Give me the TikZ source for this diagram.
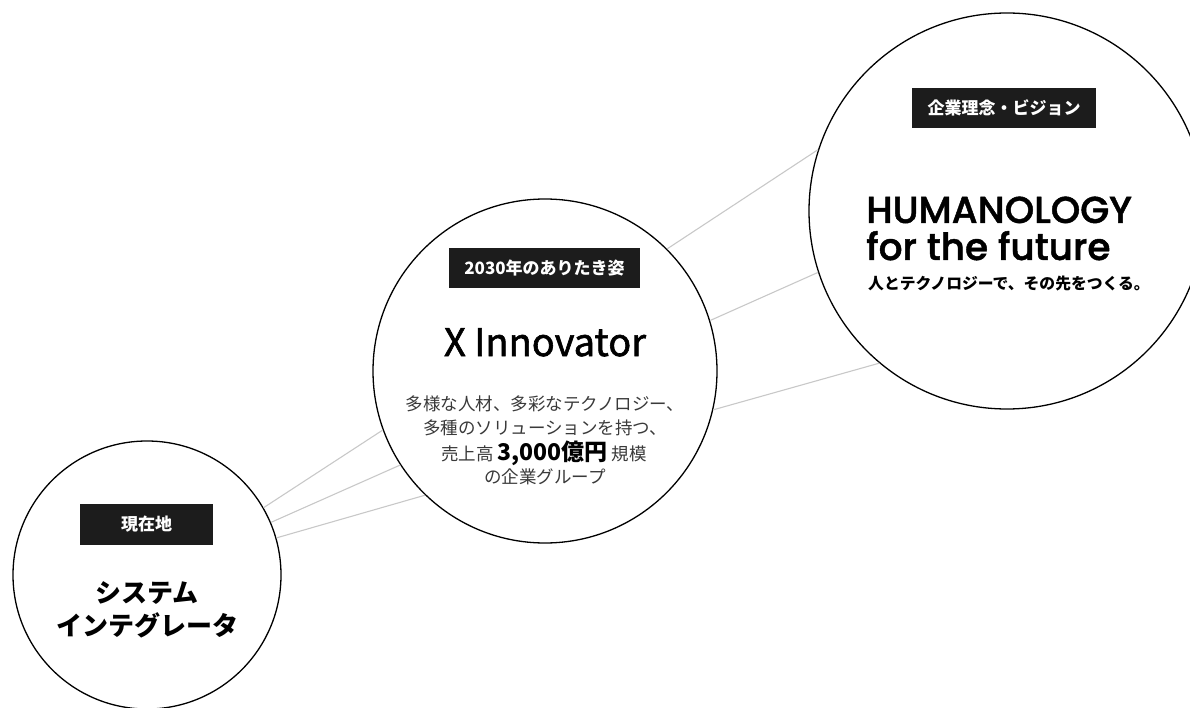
\documentclass[tikz,border=0pt]{standalone}
\usepackage{fontspec}
\setmainfont{Noto Sans CJK JP}
\newfontfamily\pop{Poppins Medium}[FakeBold=1.2]
\newfontfamily\jpmed{Noto Sans CJK JP}[FakeBold=1.6]
\definecolor{lab}{HTML}{1C1C1C}
\definecolor{conn}{HTML}{C8C8C8}
\definecolor{bodyc}{HTML}{3A3A3A}
\begin{document}
\begin{tikzpicture}[x=1pt,y=-1pt,
  bubble/.style={circle,draw=black,line width=1.3pt,fill=white,inner sep=0pt},
  tag/.style={fill=lab,text=white,inner sep=0pt,font=\bfseries\fontsize{17}{17}\selectfont},
  link/.style={draw=conn,line width=1.1pt},
  bodytxt/.style={text=bodyc,inner sep=0pt,anchor=base,font=\fontsize{17.5}{17.5}\selectfont},
  ]
\useasboundingbox (0,0) rectangle (1190,708);
% circles
\node[bubble,minimum size=268pt] (L) at (147,575) {};
\node[bubble,minimum size=344pt] (M) at (545,371) {};
\node[bubble,minimum size=396pt] (R) at (1007,211) {};
% connectors
\draw[link] (L.30) -- (M.200);
\draw[link] (L.23) -- (M.213);
\draw[link] (L.16) -- (M.226);
\draw[link] (M.45) -- (R.162);
\draw[link] (M.17) -- (R.198);
\draw[link] (M.-13) -- (R.230);
% left
\node[tag,minimum width=133pt,minimum height=41pt] (Ltag) at (146.5,524.5) {現在地};
\node[inner sep=0pt,anchor=base,font=\bfseries\fontsize{26}{26}\selectfont] (Lt1) at (147,602) {システム};
\node[inner sep=0pt,anchor=base,font=\bfseries\fontsize{26}{26}\selectfont] (Lt2) at (147,635) {インテグレータ};
% middle
\node[tag,minimum width=191pt,minimum height=40pt] (Mtag) at (544.5,268) {2030年のありたき姿};
\node[inner sep=0pt,anchor=base,font=\jpmed\fontsize{38}{38}\selectfont] (Mt) at (545,356) {X Innovator};
\node[bodytxt] (Mb1) at (545,410) {多様な人材、多彩なテクノロジー、};
\node[bodytxt] (Mb2) at (545,434) {多種のソリューションを持つ、};
\node[bodytxt] (Mb3) at (544,460) {売上高 {\color{black}\bfseries\fontsize{23}{23}\selectfont 3,000億円} 規模};
\node[bodytxt] (Mb4) at (545,483) {の企業グループ};
% right
\node[tag,minimum width=184pt,minimum height=40pt] (Rtag) at (1004,108) {企業理念・ビジョン};
\node[inner sep=0pt,anchor=base west,font=\pop\fontsize{37.5}{37.5}\selectfont] (Rt1) at (866,223) {HUMANOLOGY};
\node[inner sep=0pt,anchor=base west,font=\pop\fontsize{37.5}{37.5}\selectfont] (Rt2) at (866,260) {for the future};
\node[inner sep=0pt,anchor=base west,font=\bfseries\fontsize{15.8}{15.8}\selectfont] (Rt3) at (868,290) {人とテクノロジーで、その先をつくる。};
\end{tikzpicture}
\end{document}
